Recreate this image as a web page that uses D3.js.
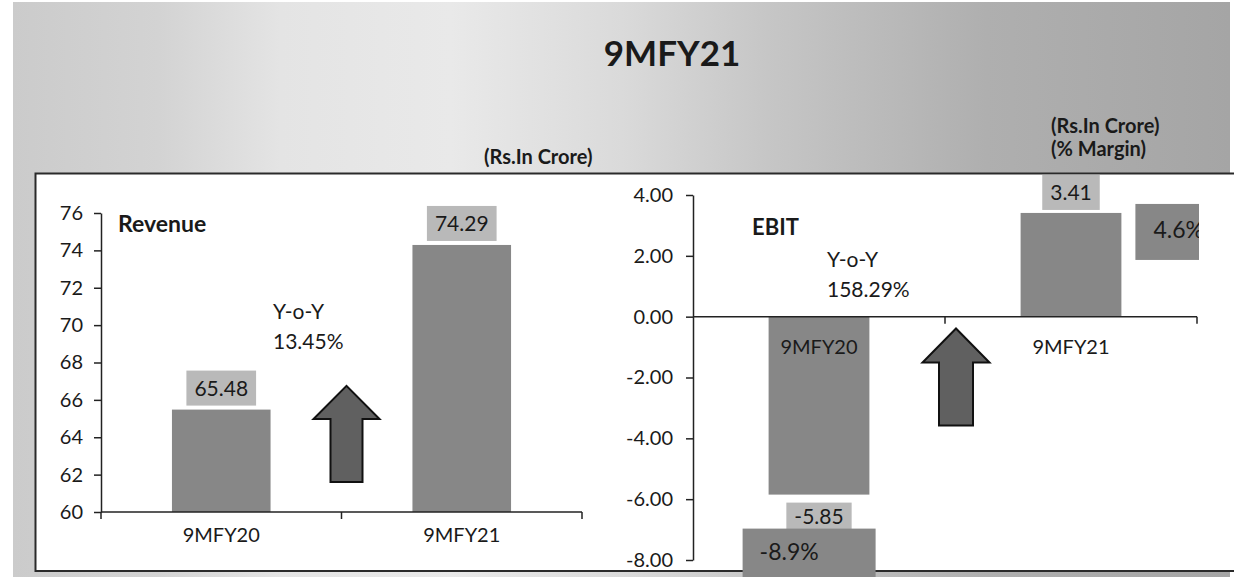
<!DOCTYPE html>
<html><head><meta charset="utf-8">
<script src="https://cdn.jsdelivr.net/npm/d3@7"></script>
<style>
html,body{margin:0;padding:0;background:#fff;overflow:hidden;}
svg{display:block;font-family:Lato,"Open Sans",sans-serif;}
</style>
</head><body>
<svg id="c" width="1234" height="577"></svg>
<script>
// ---------- data ----------
const chartTitle = "9MFY21";
const categories = ["9MFY20", "9MFY21"];
const revenue = [65.48, 74.29];
const revenueTicks = [60, 62, 64, 66, 68, 70, 72, 74, 76];
const revenueTitle = "Revenue";
const revenueYoY = ["Y-o-Y", "13.45%"];
const ebit = [-5.85, 3.41];
const ebitMargin = ["-8.9%", "4.6%"];
const ebitTicks = [-8, -6, -4, -2, 0, 2, 4];
const ebitTitle = "EBIT";
const ebitYoY = ["Y-o-Y", "158.29%"];
const unitLeft = ["(Rs.In Crore)"];
const unitRight = ["(Rs.In Crore)", "(% Margin)"];

// ---------- styles ----------
const BAR = "#878787", LABELBOX = "#b9b9b9", ARROW = "#606060", INK = "#1a1a1a";
const fmt2 = v => d3.format(".2f")(v).replace("\u2212", "-");

const svg = d3.select("#c");
const defs = svg.append("defs");
const grad = defs.append("linearGradient").attr("id", "bg").attr("x1", 0).attr("x2", 1).attr("y1", 0).attr("y2", 0);
[[0, "#cbcbcb"], [0.12, "#d3d3d3"], [0.22, "#e4e4e4"], [0.36, "#e9e9e9"], [0.5, "#dadada"],
 [0.62, "#c6c6c6"], [0.8, "#afafaf"], [1, "#a5a5a5"]].forEach(([o, c]) =>
  grad.append("stop").attr("offset", o).attr("stop-color", c));
defs.append("clipPath").attr("id", "clipR").append("rect")
  .attr("x", 600).attr("y", 0).attr("width", 599).attr("height", 577);

// background + panel
svg.append("rect").attr("width", 1234).attr("height", 577).attr("fill", "#fff");
svg.append("rect").attr("x", 13).attr("y", 2).attr("width", 1217).attr("height", 575).attr("fill", "url(#bg)");
svg.append("rect").attr("x", 35).attr("y", 173).attr("width", 1199).attr("height", 398).attr("fill", "#fff");
svg.append("path").attr("d", "M1234,173.5H35.5V571H1234")
  .attr("stroke", "#2a2a2a").attr("stroke-width", 2).attr("fill", "none");

// title & unit captions
svg.append("text").attr("x", 672).attr("y", 66).attr("text-anchor", "middle")
  .attr("font-size", 35).attr("font-weight", 700).attr("fill", INK).text(chartTitle);
svg.append("text").attr("x", 484).attr("y", 164).attr("font-size", 20).attr("font-weight", 700)
  .attr("fill", INK).text(unitLeft[0]);
svg.append("g").selectAll("text").data(unitRight).join("text")
  .attr("x", 1051).attr("y", (d, i) => 133 + i * 23).attr("font-size", 20).attr("font-weight", 700)
  .attr("fill", INK).text(d => d);

function labelBox(g, cx, y, txt, anchorBottom) {
  const bg = g.append("g");
  const r = bg.append("rect").attr("fill", LABELBOX);
  const t = bg.append("text").attr("x", cx).attr("text-anchor", "middle")
    .attr("font-size", 21).attr("fill", INK).text(txt);
  const w = t.node().getComputedTextLength();
  const bw = w + 16, bh = anchorBottom ? 35 : 27;
  const top = anchorBottom ? y - bh : y;
  r.attr("x", cx - bw / 2).attr("y", top).attr("width", bw).attr("height", bh);
  t.attr("y", top + bh / 2).attr("dy", "0.36em");
}

function arrow(g, cx, yBottom, yHeadBase, yTip, bodyW, headW) {
  const p = d3.path();
  p.moveTo(cx - bodyW / 2, yBottom);
  p.lineTo(cx - bodyW / 2, yHeadBase);
  p.lineTo(cx - headW / 2, yHeadBase);
  p.lineTo(cx, yTip);
  p.lineTo(cx + headW / 2, yHeadBase);
  p.lineTo(cx + bodyW / 2, yHeadBase);
  p.lineTo(cx + bodyW / 2, yBottom);
  p.closePath();
  g.append("path").attr("d", p.toString()).attr("fill", ARROW).attr("stroke", "#111").attr("stroke-width", 2).attr("stroke-linejoin", "miter");
}

// ---------- Revenue chart ----------
const gL = svg.append("g");
const yRev = d3.scaleLinear().domain([60, 76]).range([512, 213]);
const xRev = d3.scaleBand().domain(categories).range([101, 582]).paddingInner(0.59).paddingOuter(0.295);

gL.selectAll("rect.bar").data(categories).join("rect").attr("class", "bar")
  .attr("x", d => xRev(d)).attr("width", xRev.bandwidth())
  .attr("y", (d, i) => yRev(revenue[i])).attr("height", (d, i) => yRev(60) - yRev(revenue[i]))
  .attr("fill", BAR);

const yAxL = gL.append("g").attr("transform", `translate(${xRev.range()[0]},0)`)
  .call(d3.axisLeft(yRev).tickValues(revenueTicks).tickSize(7).tickSizeOuter(0).tickPadding(11).tickFormat(d3.format("d")));
yAxL.attr("font-size", 20).attr("font-family", "Lato");
yAxL.selectAll("text").attr("fill", INK);
yAxL.selectAll("line,path").attr("stroke", "#222").attr("stroke-width", 1.5);

const bL = [xRev.range()[0], xRev.range()[0] + xRev.step(), xRev.range()[1]];
gL.append("line").attr("x1", bL[0]).attr("x2", bL[2]).attr("y1", yRev(60)).attr("y2", yRev(60)).attr("stroke", "#222").attr("stroke-width", 1.5);
gL.selectAll("line.bt").data(bL).join("line").attr("class", "bt")
  .attr("x1", d => d).attr("x2", d => d).attr("y1", yRev(60)).attr("y2", yRev(60) + 7).attr("stroke", "#222").attr("stroke-width", 1.5);
gL.selectAll("text.cat").data(categories).join("text").attr("class", "cat")
  .attr("x", d => xRev(d) + xRev.bandwidth() / 2).attr("y", yRev(60) + 30)
  .attr("text-anchor", "middle").attr("font-size", 20).attr("fill", INK).text(d => d);

categories.forEach((c, i) => labelBox(gL, xRev(c) + xRev.bandwidth() / 2, yRev(revenue[i]) - 4, revenue[i].toFixed(2), true));

gL.append("text").attr("x", xRev.range()[0] + 17).attr("y", yRev(75)).attr("font-size", 23).attr("font-weight", 700).attr("fill", INK).text(revenueTitle);
gL.selectAll("text.yoy").data(revenueYoY).join("text").attr("class", "yoy")
  .attr("x", 273).attr("y", (d, i) => yRev(70.35) + i * 30).attr("font-size", 21).attr("fill", INK).text(d => d);
arrow(gL, bL[1] + 5, yRev(61.6), yRev(64.98), yRev(66.75), 32, 66);

// ---------- EBIT chart ----------
const gR = svg.append("g").attr("clip-path", "url(#clipR)");
const yE = d3.scaleLinear().domain([-8, 4]).range([560, 195]);
const xE = d3.scaleBand().domain(categories).range([693, 1197]).paddingInner(0.6).paddingOuter(0.3);

gR.selectAll("rect.bar").data(categories).join("rect").attr("class", "bar")
  .attr("x", d => xE(d)).attr("width", xE.bandwidth())
  .attr("y", (d, i) => Math.min(yE(ebit[i]), yE(0))).attr("height", (d, i) => Math.abs(yE(ebit[i]) - yE(0)))
  .attr("fill", BAR);

const yAxR = gR.append("g").attr("transform", `translate(${xE.range()[0]},0)`)
  .call(d3.axisLeft(yE).tickValues(ebitTicks).tickSize(7).tickSizeOuter(0).tickPadding(13).tickFormat(fmt2));
yAxR.attr("font-size", 20).attr("font-family", "Lato");
yAxR.selectAll("text").attr("fill", INK);
yAxR.selectAll("line,path").attr("stroke", "#222").attr("stroke-width", 1.5);

const bR = [xE.range()[0], xE.range()[0] + xE.step(), xE.range()[1]];
gR.append("line").attr("x1", bR[0]).attr("x2", bR[2]).attr("y1", yE(0)).attr("y2", yE(0)).attr("stroke", "#222").attr("stroke-width", 1.5);
gR.selectAll("line.bt").data(bR.slice(1)).join("line").attr("class", "bt")
  .attr("x1", d => d).attr("x2", d => d).attr("y1", yE(0)).attr("y2", yE(0) + 7).attr("stroke", "#222").attr("stroke-width", 1.5);
gR.selectAll("text.cat").data(categories).join("text").attr("class", "cat")
  .attr("x", d => xE(d) + xE.bandwidth() / 2).attr("y", yE(0) + 37)
  .attr("text-anchor", "middle").attr("font-size", 20).attr("fill", INK).text(d => d);

categories.forEach((c, i) => {
  const cx = xE(c) + xE.bandwidth() / 2;
  if (ebit[i] >= 0) labelBox(gR, cx, yE(ebit[i]) - 3, fmt2(ebit[i]), true);
  else labelBox(gR, cx, yE(ebit[i]) + 8, fmt2(ebit[i]), false);
});

// margin boxes
const mBox = [
  { x: xE(categories[0]) - 26, y: yE(ebit[0]) + 34, w: 133, h: 60, dx: 17, dy: 31 },
  { x: xE(categories[1]) + xE.bandwidth() + 14, y: yE(ebit[1]) - 9, w: 78, h: 56, dx: 18, dy: 34 }
];
gR.selectAll("rect.mb").data(mBox).join("rect").attr("class", "mb")
  .attr("x", d => d.x).attr("y", d => d.y).attr("width", d => d.w).attr("height", d => d.h).attr("fill", BAR);
gR.selectAll("text.mt").data(mBox).join("text").attr("class", "mt")
  .attr("x", d => d.x + d.dx).attr("y", d => d.y + d.dy)
  .attr("font-size", 23).attr("fill", INK).text((d, i) => ebitMargin[i]);

gR.append("text").attr("x", 752).attr("y", yE(2.7)).attr("font-size", 22).attr("font-weight", 700).attr("fill", INK).text(ebitTitle);
gR.selectAll("text.yoy").data(ebitYoY).join("text").attr("class", "yoy")
  .attr("x", 827).attr("y", (d, i) => yE(1.64) + i * 30).attr("font-size", 21).attr("fill", INK).text(d => d);
arrow(gR, bR[1] + 11, yE(-3.58), yE(-1.51), yE(-0.39), 34, 67);
</script>
</body></html>
